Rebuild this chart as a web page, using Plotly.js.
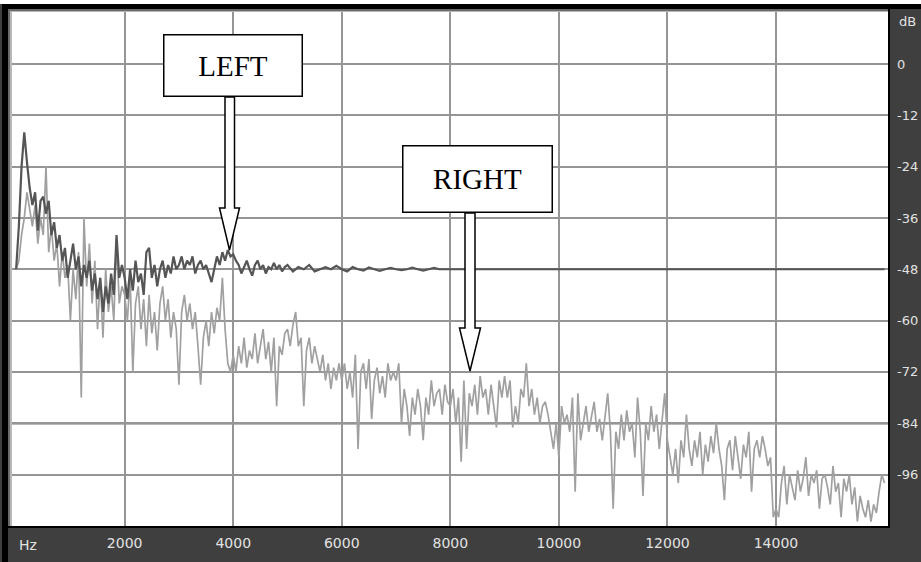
<!DOCTYPE html>
<html>
<head>
<meta charset="utf-8">
<script src="https://cdn.plot.ly/plotly-3.0.1.min.js"></script>
<style>html,body{margin:0;padding:0;background:#fff;}#chart{width:921px;height:562px;}</style>
</head>
<body>
<div id="chart"></div>
<script>
// ---------- data ----------
const binHz = 50; // FFT bin spacing of the spectra below

// RIGHT channel (light grey), one value per 50 Hz bin, 0 .. 16000 Hz
const rightDb = [
  -48,-46,-40,-36,-30,-34,-38,-33,-42,-36,-40,-24,-44,-38,-46,-42,-52,-44,-50,-47,
  -60,-48,-55,-44,-78,-36,-52,-42,-56,-46,-62,-50,-64,-48,-58,-52,-60,-41,-56,-52,
  -54,-60,-50,-72,-56,-52,-62,-55,-66,-54,-63,-58,-67,-56,-52,-60,-55,-64,-58,-62,
  -75,-58,-54,-60,-56,-62,-58,-66,-75,-64,-60,-66,-58,-63,-57,-60,-50,-62,-70,-72,
  -68,-72,-66,-70,-64,-71,-67,-69,-63,-70,-66,-62,-69,-65,-72,-64,-80,-66,-68,-63,
  -62,-66,-61,-58,-66,-64,-80,-67,-64,-70,-66,-69,-72,-68,-74,-70,-76,-71,-74,-70,
  -74,-70,-76,-72,-78,-68,-90,-72,-70,-76,-69,-83,-74,-71,-77,-73,-78,-70,-74,-72,
  -74,-70,-84,-76,-80,-87,-78,-82,-76,-80,-88,-78,-82,-74,-80,-77,-76,-82,-75,-79,
  -80,-76,-84,-78,-93,-74,-90,-77,-80,-75,-82,-73,-78,-76,-82,-75,-80,-85,-74,-78,
  -73,-78,-74,-85,-80,-84,-76,-78,-70,-80,-76,-82,-78,-84,-80,-79,-82,-86,-90,-84,
  -92,-80,-84,-82,-86,-78,-100,-77,-88,-84,-80,-86,-82,-79,-86,-83,-88,-82,-77,-86,
  -104,-86,-90,-82,-88,-81,-86,-84,-92,-78,-86,-101,-84,-88,-80,-86,-82,-90,-84,-77,
  -88,-92,-96,-90,-98,-88,-92,-82,-90,-94,-88,-92,-86,-96,-89,-93,-87,-91,-84,-90,
  -94,-102,-90,-88,-95,-87,-92,-97,-89,-92,-86,-100,-90,-88,-92,-87,-90,-94,-92,-106,
  -104,-106,-98,-94,-103,-96,-99,-102,-95,-100,-97,-92,-101,-96,-98,-95,-104,-97,-96,-99,
  -103,-94,-100,-98,-106,-97,-100,-96,-103,-99,-107,-101,-104,-106,-102,-107,-103,-105,-100,-96,
  -98
];

// LEFT channel (dark grey), 50 Hz bins 0 .. 4950 Hz
const leftDbLow = [
  -48,-38,-24,-16,-23,-29,-33,-30,-39,-32,-31,-35,-32,-40,-37,-43,-40,-46,-43,-50,
  -46,-42,-48,-45,-52,-47,-50,-46,-53,-49,-55,-50,-58,-52,-56,-49,-54,-40,-50,-47,
  -50,-55,-48,-53,-46,-51,-49,-54,-44,-43,-50,-47,-52,-48,-46,-50,-47,-49,-45,-48,
  -47,-45,-48,-46,-47,-45,-49,-47,-46,-48,-47,-49,-51,-48,-45,-47,-44,-46,-43.5,-45,
  -44.5,-46,-47,-49,-47.5,-46,-48,-49.5,-47,-46,-48,-47,-49,-47.5,-48,-46.5,-48,-47,-48.5,-47.5
];
// LEFT channel above 5000 Hz (settles on its floor)
const leftHzHigh = [5000,5100,5200,5300,5400,5500,5600,5700,5800,5900,6000,6100,6200,6300,6400,6500,
  6600,6700,6800,6900,7000,7100,7200,7300,7400,7500,7600,7700,7800,7900,8000,8500,9000,16000];
const leftDbHigh = [-47,-48.5,-47.5,-48,-47,-48.5,-48,-47.5,-48,-47.2,-48,-48.5,-47.5,-48,-48.3,-47.6,
  -48,-48.4,-48,-47.7,-48,-48.2,-48,-47.6,-48,-48.3,-48,-47.7,-48,-48,-48,-48,-48,-48];

const refLevelDb = -84;

const hzTicks = [2000,4000,6000,8000,10000,12000,14000];
const hzTickText = ['2000','4000','6000','8000','10000','12000','14000'];
const dbTicks = [0,-12,-24,-36,-48,-60,-72,-84,-96];
const dbTickText = ['0','-12','-24','-36','-48','-60','-72','-84','-96'];

const labelLeft = 'LEFT';
const labelRight = 'RIGHT';

// ---------- build ----------
const rightHz = rightDb.map((_, i) => i * binHz);
const leftHz = leftDbLow.map((_, i) => i * binHz).concat(leftHzHigh);
const leftDb = leftDbLow.concat(leftDbHigh);

const W = 921, H = 562;
const M = {l: 12, r: 33, t: 12, b: 36};
const PW = W - M.l - M.r, PH = H - M.t - M.b;
const px = x => (x - M.l) / PW;          // pixel -> paper x
const py = y => (H - M.b - y) / PH;      // pixel -> paper y

function hollowArrow(shaftL, shaftR, top, headL, headR, headTop, tipX, tipY) {
  const p = [[shaftL, top],[shaftL, headTop],[headL, headTop],[tipX, tipY],[headR, headTop],[shaftR, headTop],[shaftR, top]];
  return 'M ' + p.map(q => px(q[0]).toFixed(5) + ',' + py(q[1]).toFixed(5)).join(' L ') + ' Z';
}

const traces = [
  {x: rightHz, y: rightDb, type: 'scatter', mode: 'lines', name: 'RIGHT',
   line: {color: '#a0a0a0', width: 1.7}, hoverinfo: 'skip'},
  {x: leftHz, y: leftDb, type: 'scatter', mode: 'lines', name: 'LEFT',
   line: {color: '#555555', width: 2.2}, hoverinfo: 'skip'}
];

const shapes = [
  // white strip above the frame
  {type: 'rect', xref: 'paper', yref: 'paper', x0: px(0), x1: px(W), y0: py(0), y1: py(4), fillcolor: '#ffffff', line: {width: 0}, layer: 'below'},
  // black outer border top & left
  {type: 'rect', xref: 'paper', yref: 'paper', x0: px(2), x1: px(W), y0: py(4), y1: py(9), fillcolor: '#000000', line: {width: 0}, layer: 'below'},
  {type: 'rect', xref: 'paper', yref: 'paper', x0: px(2), x1: px(8), y0: py(4), y1: py(H), fillcolor: '#000000', line: {width: 0}, layer: 'below'},
  // inset bevel
  {type: 'rect', xref: 'paper', yref: 'paper', x0: px(8), x1: px(10), y0: py(9), y1: py(527), fillcolor: '#6a6a6a', line: {width: 0}, layer: 'below'},
  {type: 'rect', xref: 'paper', yref: 'paper', x0: px(8), x1: px(889), y0: py(9), y1: py(11), fillcolor: '#6a6a6a', line: {width: 0}, layer: 'below'},
  {type: 'rect', xref: 'paper', yref: 'paper', x0: px(10), x1: px(12), y0: py(11), y1: py(527), fillcolor: '#b8b8b8', line: {width: 0}, layer: 'below'},
  {type: 'rect', xref: 'paper', yref: 'paper', x0: px(10), x1: px(889), y0: py(11), y1: py(12), fillcolor: '#b8b8b8', line: {width: 0}, layer: 'below'},
  {type: 'rect', xref: 'paper', yref: 'paper', x0: px(888), x1: px(890), y0: py(9), y1: py(528), fillcolor: '#000000', line: {width: 0}, layer: 'below'},
  {type: 'rect', xref: 'paper', yref: 'paper', x0: px(8), x1: px(890), y0: py(526), y1: py(528), fillcolor: '#000000', line: {width: 0}, layer: 'below'},
  // reference level line
  {type: 'line', xref: 'paper', yref: 'y', x0: 0, x1: 1, y0: refLevelDb, y1: refLevelDb, line: {color: '#777777', width: 2.6}, layer: 'below'},
  // hollow arrows
  {type: 'path', xref: 'paper', yref: 'paper', path: hollowArrow(225, 234.5, 97, 219.5, 239.5, 208, 229.5, 250),
   fillcolor: '#ffffff', line: {color: '#000000', width: 1.5}, layer: 'above'},
  {type: 'path', xref: 'paper', yref: 'paper', path: hollowArrow(465, 475, 213, 459.5, 480.5, 328, 470, 371),
   fillcolor: '#ffffff', line: {color: '#000000', width: 1.5}, layer: 'above'}
];

const annotations = [
  {text: labelLeft, xref: 'paper', yref: 'paper', x: px(233), y: py(65.5), xanchor: 'center', yanchor: 'middle',
   showarrow: false, width: 137, height: 60, bgcolor: '#ffffff', bordercolor: '#000000', borderwidth: 1.5, borderpad: 0,
   font: {family: 'Liberation Serif, Times New Roman, serif', size: 29, color: '#000000'}},
  {text: labelRight, xref: 'paper', yref: 'paper', x: px(477.5), y: py(179), xanchor: 'center', yanchor: 'middle',
   showarrow: false, width: 148, height: 65, bgcolor: '#ffffff', bordercolor: '#000000', borderwidth: 1.5, borderpad: 0,
   font: {family: 'Liberation Serif, Times New Roman, serif', size: 29, color: '#000000'}},
  {text: 'Hz', xref: 'paper', yref: 'paper', x: px(28), y: py(545), xanchor: 'center', yanchor: 'middle',
   showarrow: false, font: {family: 'DejaVu Sans', size: 14, color: '#e2e2e2'}},
  {text: 'dB', xref: 'paper', yref: 'paper', x: px(897), y: py(21), xanchor: 'left', yanchor: 'middle',
   showarrow: false, font: {family: 'DejaVu Sans', size: 13, color: '#e2e2e2'}}
];

const layout = {
  width: W, height: H,
  margin: M,
  paper_bgcolor: '#3f3f3f',
  plot_bgcolor: '#ffffff',
  showlegend: false,
  xaxis: {
    range: [-76, 16064], tickvals: hzTicks, ticktext: hzTickText,
    showgrid: true, gridcolor: '#959595', gridwidth: 2, zeroline: false, showline: false,
    ticks: '', ticklabelstandoff: 7,
    tickfont: {family: 'DejaVu Sans', size: 14, color: '#e2e2e2'}, fixedrange: true
  },
  yaxis: {
    range: [-108.04, 12.16], side: 'right', tickvals: dbTicks, ticktext: dbTickText,
    showgrid: true, gridcolor: '#959595', gridwidth: 2, zeroline: false, showline: false,
    ticks: '', ticklabelstandoff: 8,
    tickfont: {family: 'DejaVu Sans', size: 13, color: '#e2e2e2'}, fixedrange: true
  },
  shapes: shapes,
  annotations: annotations
};

Plotly.newPlot('chart', traces, layout, {staticPlot: true, displayModeBar: false});
</script>
</body>
</html>
